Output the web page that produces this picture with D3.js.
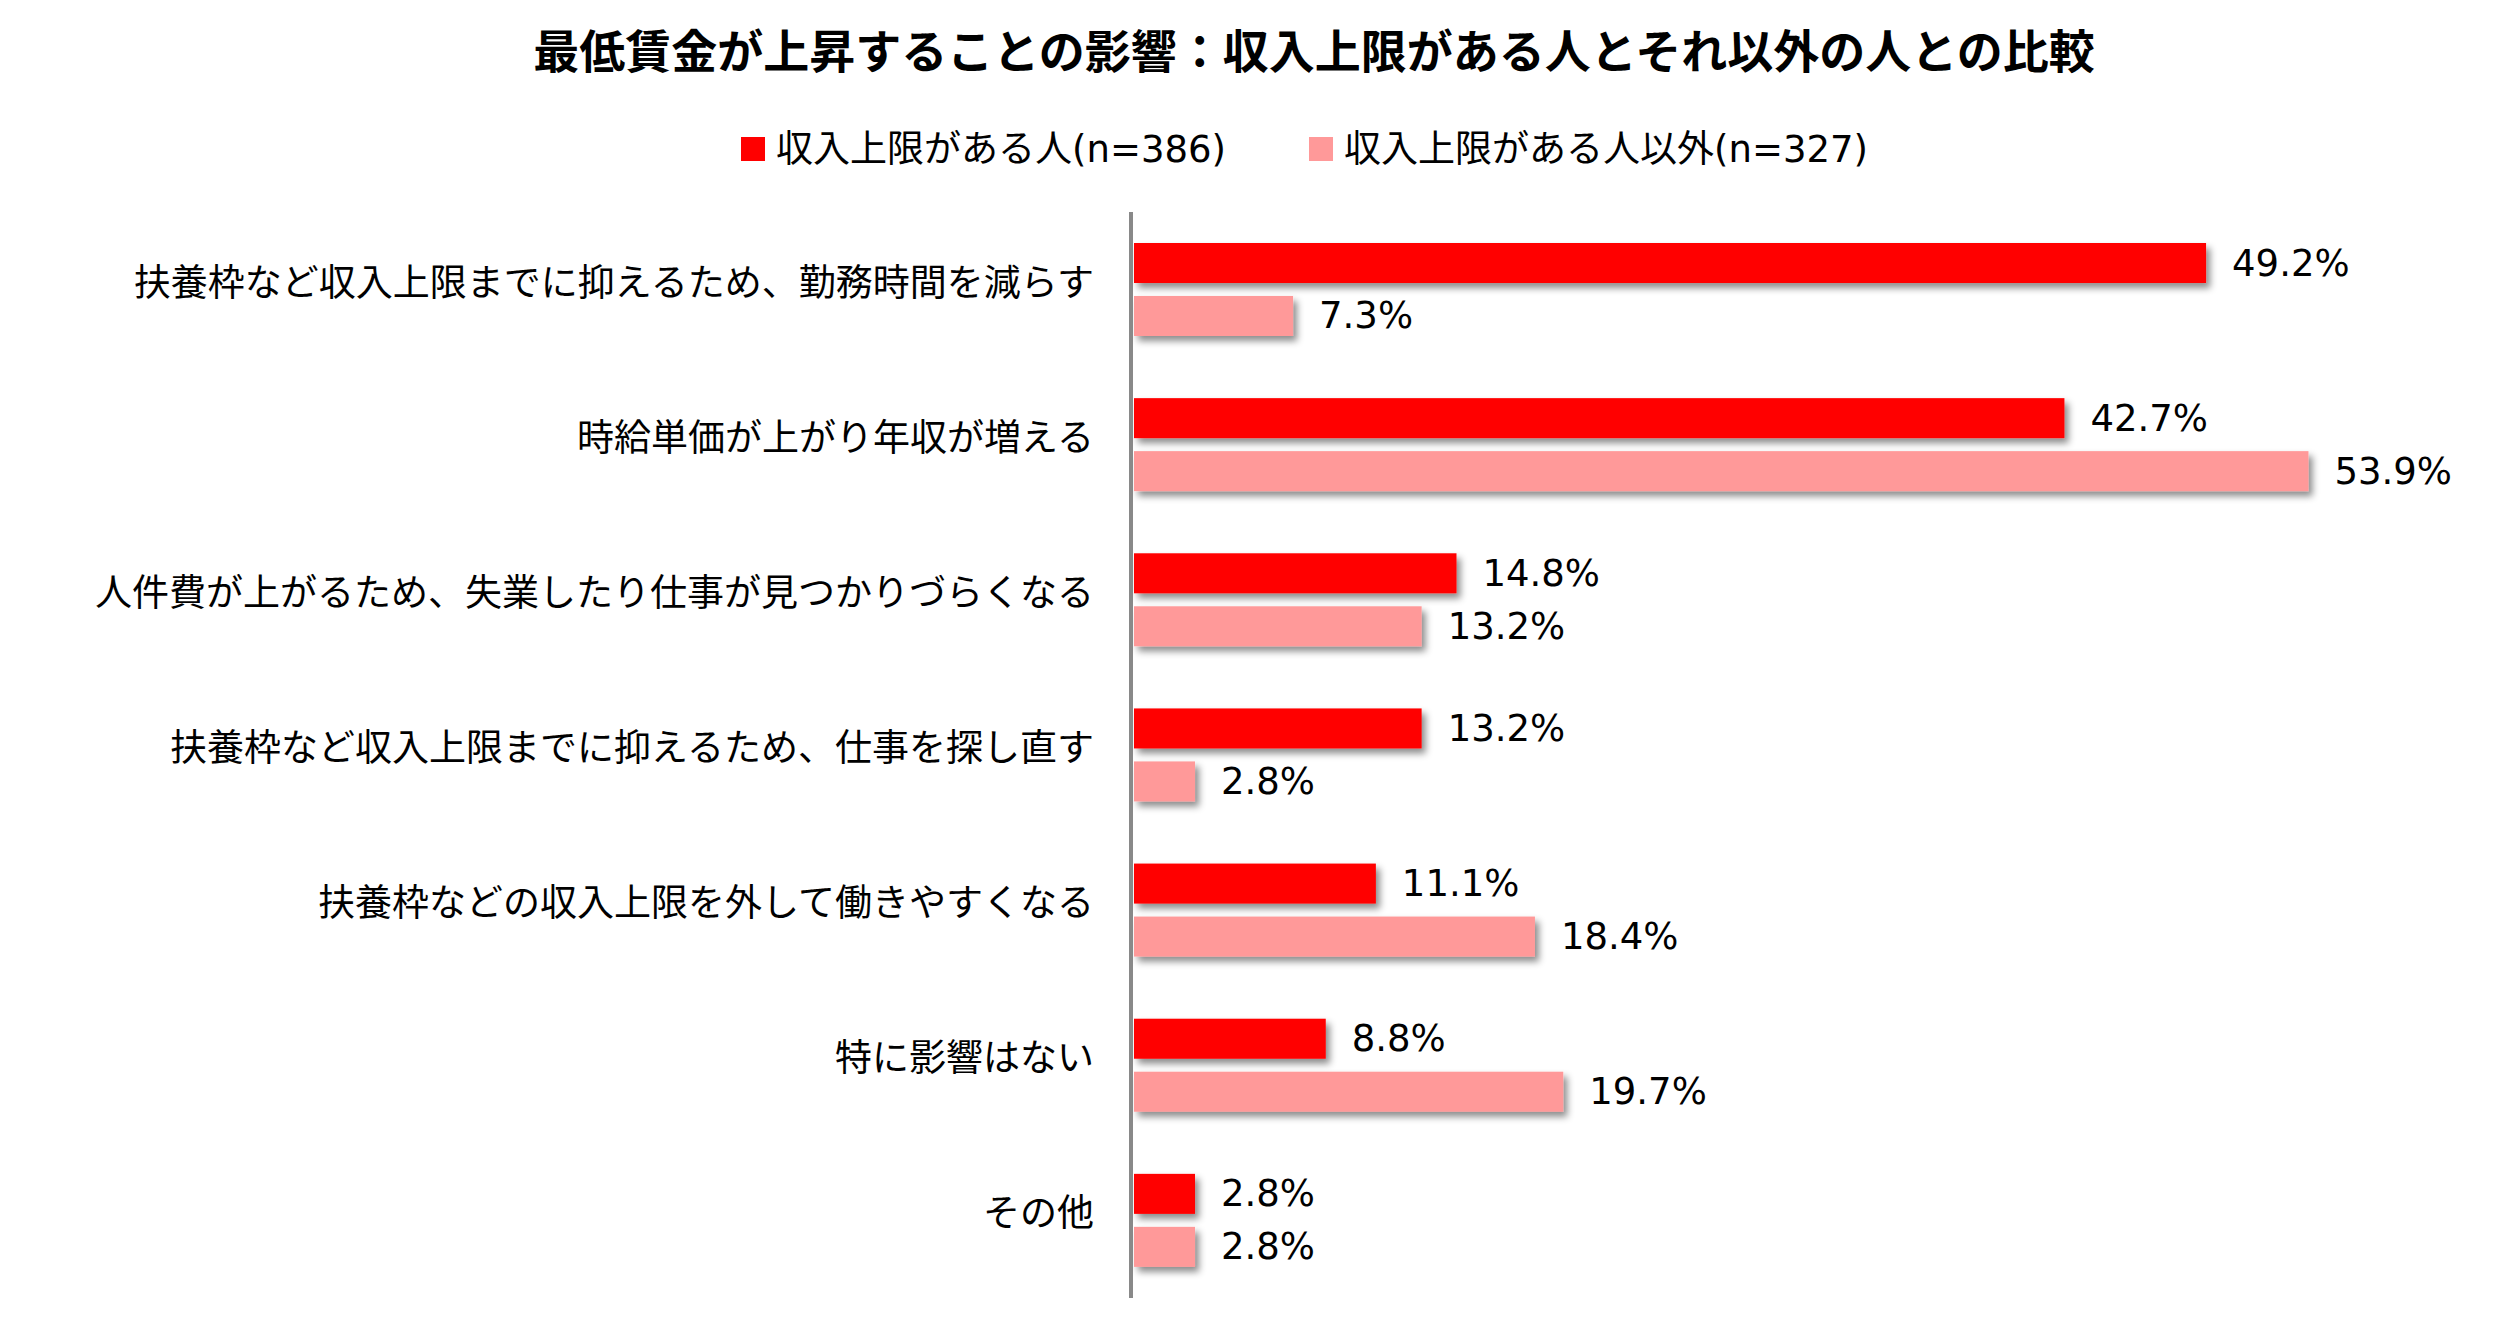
<!DOCTYPE html>
<html><head><meta charset="utf-8">
<script src="https://cdn.jsdelivr.net/npm/d3@7"></script>
<style>
html,body{margin:0;padding:0;background:#fff;}
svg{display:block;}
</style></head>
<body>
<script>
const categories = [
  "扶養枠など収入上限までに抑えるため、勤務時間を減らす",
  "時給単価が上がり年収が増える",
  "人件費が上がるため、失業したり仕事が見つかりづらくなる",
  "扶養枠など収入上限までに抑えるため、仕事を探し直す",
  "扶養枠などの収入上限を外して働きやすくなる",
  "特に影響はない",
  "その他"
];
const seriesNames = ["収入上限がある人(n=386)", "収入上限がある人以外(n=327)"];
const withLimit = [49.2, 42.7, 14.8, 13.2, 11.1, 8.8, 2.8];
const withoutLimit = [7.3, 53.9, 13.2, 2.8, 18.4, 19.7, 2.8];
const seriesColors = ["#FF0000", "#FF9999"];
const title = "最低賃金が上昇することの影響：収入上限がある人とそれ以外の人との比較";

const W = 2493, H = 1342;
const FONT = "'DejaVu Sans','Noto Sans CJK JP',sans-serif";
const svg = d3.select("body").append("svg").attr("width", W).attr("height", H);

const defs = svg.append("defs");
const f = defs.append("filter").attr("id","shadow").attr("x","-10%").attr("y","-30%").attr("width","130%").attr("height","180%");
f.append("feDropShadow").attr("dx",4).attr("dy",5).attr("stdDeviation",3.5)
  .attr("flood-color","#000").attr("flood-opacity",0.45);

// title
svg.append("text").attr("x", 1314).attr("y", 48)
  .attr("text-anchor","middle").attr("dominant-baseline","central")
  .style("font-family","'Noto Sans CJK JP',sans-serif").style("font-weight","bold")
  .style("font-size","46px").attr("fill","#000").text(title);

// legend
const legendX = [741, 1309];
seriesNames.forEach((s,i)=>{
  const g = svg.append("g").attr("transform",`translate(${legendX[i]},149)`);
  g.append("rect").attr("x",0).attr("y",-12).attr("width",24).attr("height",24).attr("fill",seriesColors[i]);
  g.append("text").attr("x",35).attr("y",0).attr("dominant-baseline","central")
    .style("font-family",FONT).style("font-size","37px").attr("fill","#000").text(s);
});

const x = d3.scaleLinear().domain([0,60]).range([1134, 1134 + 60*21.79]);
const y = d3.scaleBand().domain(categories).range([212, 1298]).paddingInner(0).paddingOuter(0);
const yi = d3.scaleBand().domain([0,1]).range([31, 124]).paddingInner(0.245);

const data = categories.map((c,i)=>({cat:c, vals:[withLimit[i], withoutLimit[i]]}));

const groups = svg.append("g").selectAll("g").data(data).join("g")
  .attr("transform", d=>`translate(0,${y(d.cat)})`);

groups.selectAll("rect").data(d=>d.vals.map((v,k)=>({v,k}))).join("rect")
  .attr("x", x(0)).attr("y", d=>yi(d.k))
  .attr("width", d=>x(d.v)-x(0)).attr("height", yi.bandwidth())
  .attr("fill", d=>seriesColors[d.k]).attr("filter","url(#shadow)");

groups.selectAll("text.val").data(d=>d.vals.map((v,k)=>({v,k}))).join("text")
  .attr("class","val")
  .attr("x", d=>x(d.v)+26).attr("y", d=>yi(d.k)+yi.bandwidth()/2)
  .attr("dominant-baseline","central")
  .style("font-family",FONT).style("font-size","37px").attr("fill","#000")
  .text(d=>d.v.toFixed(1)+"%");

// category labels
svg.append("g").selectAll("text").data(categories).join("text")
  .attr("x", 1094).attr("y", d=>y(d)+y.bandwidth()/2 - 10)
  .attr("text-anchor","end").attr("dominant-baseline","central")
  .style("font-family","'Noto Sans CJK JP',sans-serif").style("font-size","37px").attr("fill","#000")
  .text(d=>d);

// axis line
svg.append("line").attr("x1",1131).attr("x2",1131).attr("y1",212).attr("y2",1298)
  .attr("stroke","#898989").attr("stroke-width",4);
</script>
</body></html>
